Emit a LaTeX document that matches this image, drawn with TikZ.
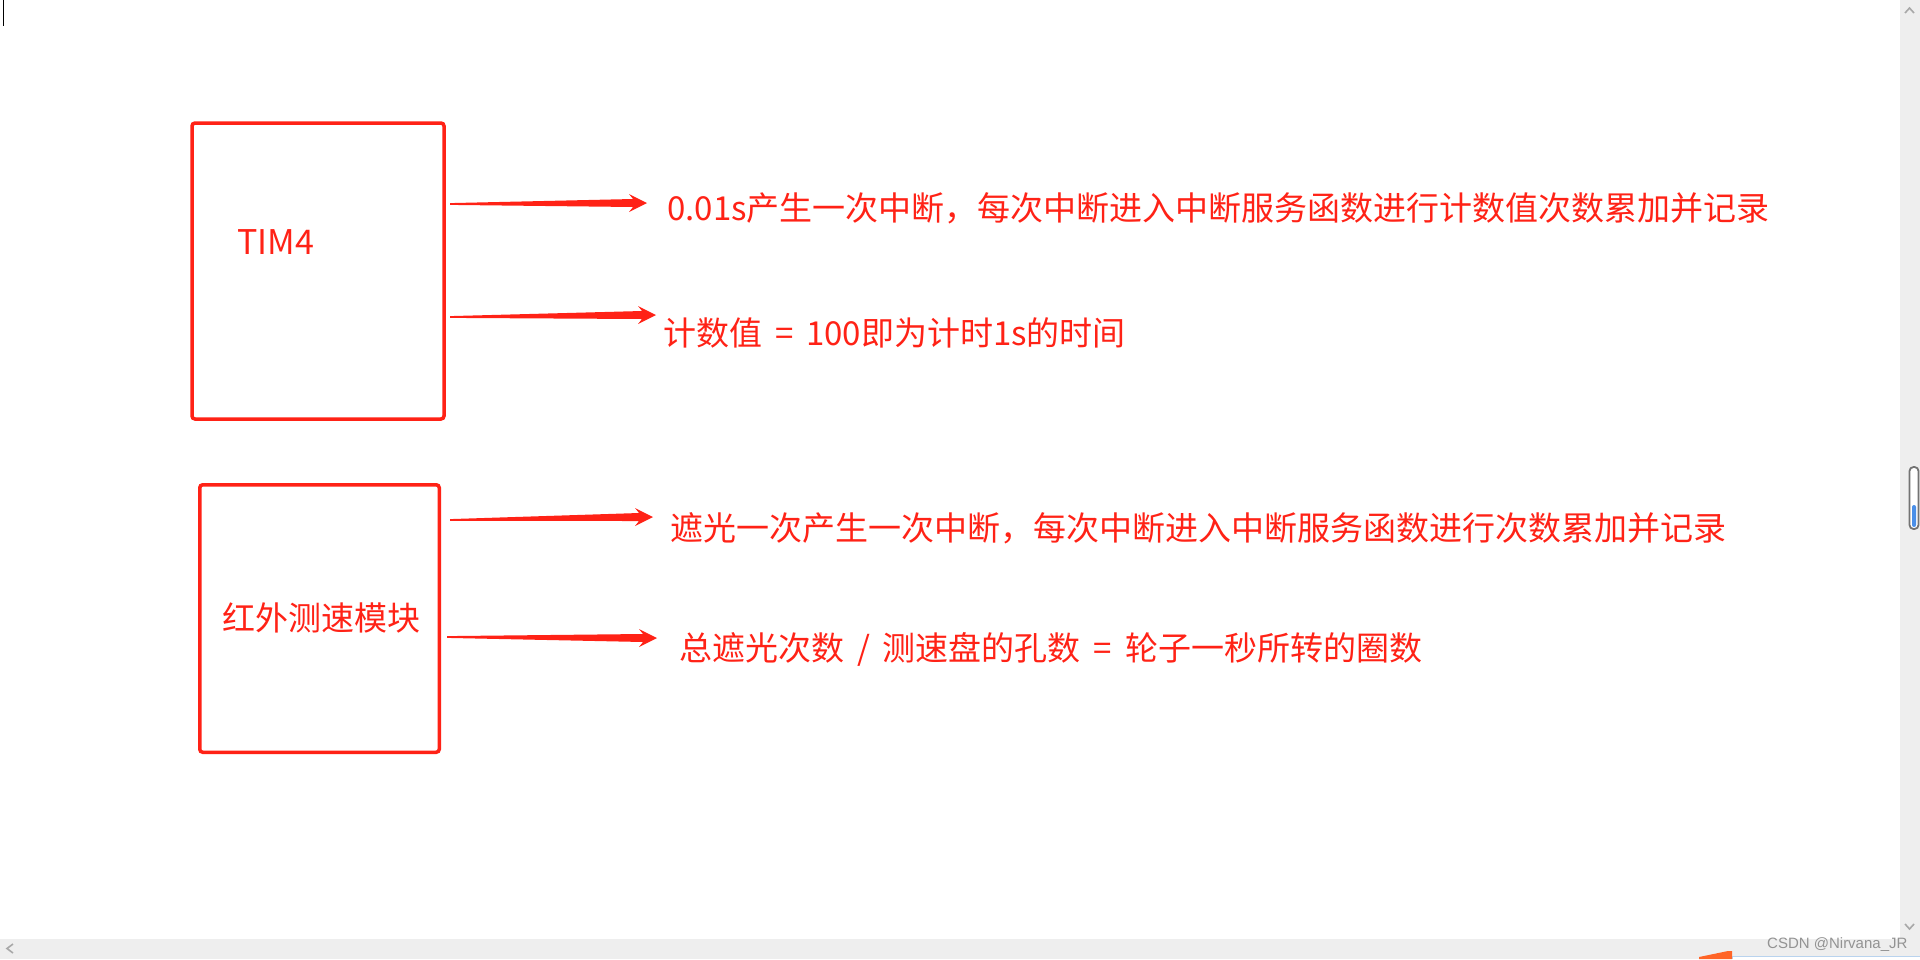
\documentclass[tikz,border=0pt]{standalone}
\usepackage{fontspec}
\usetikzlibrary{calc}
\newfontfamily\cjk{Noto Sans CJK SC}
\newfontfamily\wmfont{Liberation Sans}
\definecolor{dred}{HTML}{FF2216}
\definecolor{uigray}{HTML}{EEEEEE}
\definecolor{chev}{HTML}{A8A8A8}
\definecolor{thumbblue}{HTML}{4A8FE8}
\definecolor{orng}{HTML}{FF6426}
\definecolor{lblue}{HTML}{B9D3EE}
\newcommand{\redarrow}[2]{%
  \fill[arrfill] ($(#1)+(0,-0.9)$) -- ($(#2)+(-14,-4)$) -- ($(#2)+(-18,-9)$) -- (#2)
    -- ($(#2)+(-18,9)$) -- ($(#2)+(-14,4)$) -- ($(#1)+(0,0.9)$) -- cycle;}
\tikzset{
  box/.style={draw=dred, line width=3.5pt, rounded corners=3pt, rectangle, inner sep=0pt},
  txt/.style={text=dred, font=\cjk\fontsize{33}{40}\selectfont, inner sep=0pt, anchor=base west},
  boxtxt/.style={text=dred, font=\cjk\fontsize{33}{40}\selectfont, inner sep=0pt, anchor=base west},
  arrfill/.style={fill=dred},
  chevron/.style={draw=chev, line width=1.6pt},
}
\begin{document}
\begin{tikzpicture}[x=1pt,y=-1pt]
\useasboundingbox (0,0) rectangle (1920,959);
\fill[white] (0,0) rectangle (1920,959);
% text cursor
\draw[black, line width=1pt] (3,0) -- (3,26);
% boxes
\node[box, minimum width=252, minimum height=296] (tim) at (318,271) {};
\node[box, minimum width=239.5, minimum height=267.5] (ir) at (319.5,618.5) {};
\node[boxtxt, font=\cjk\fontsize{34}{40}\selectfont] (timlbl) at (237,254) {TIM4};
\node[boxtxt] (irlbl) at (222,630) {红外测速模块};
% texts
\node[txt] (t1) at (667,220) {0.01s产生一次中断，每次中断进入中断服务函数进行计数值次数累加并记录};
\node[txt] (t2) at (663,345) {计数值 \,= \,100即为计时1s的时间};
\node[txt] (t3) at (670,540) {遮光一次产生一次中断，每次中断进入中断服务函数进行次数累加并记录};
\node[txt] (t4) at (679,660) {总遮光次数 \,/ \,测速盘的孔数 \,= \,轮子一秒所转的圈数};
% arrows
\coordinate (a1s) at (450,204);  \coordinate (a1e) at (647,203);
\coordinate (a2s) at (450,317);  \coordinate (a2e) at (656,315);
\coordinate (a3s) at (450,520);  \coordinate (a3e) at (653,517);
\coordinate (a4s) at (447,637);  \coordinate (a4e) at (657,638);
\redarrow{a1s}{a1e}
\redarrow{a2s}{a2e}
\redarrow{a3s}{a3e}
\redarrow{a4s}{a4e}
% vertical scrollbar
\fill[uigray] (1900,0) rectangle (1920,939);
\draw[chevron] (1905,13) -- (1909.5,8) -- (1914,13);
\draw[chevron] (1905,924) -- (1909.5,929) -- (1914,924);
\draw[draw=gray!90!black, line width=1.8pt, rounded corners=4pt, fill=white] (1909.5,467) rectangle (1918.5,529);
\fill[thumbblue, rounded corners=2pt] (1912,505) rectangle (1916,527);
% horizontal scrollbar
\fill[uigray] (0,939) rectangle (1920,959);
\draw[chevron] (13,944) -- (7,948.5) -- (13,953);
% bottom-right widget
\fill[white] (1732,956) rectangle (1920,959);
\draw[lblue, line width=1pt] (1732,959) -- (1732,956) -- (1920,956);
\fill[orng] (1699,959) -- (1699,957) -- (1728,951) -- (1732,951) -- (1732,959) -- cycle;
% watermark
\node[text=gray!85, font=\wmfont\fontsize{15}{18}\selectfont, inner sep=0pt, anchor=base west] (wm) at (1767,948) {CSDN @Nirvana\_JR};
\end{tikzpicture}
\end{document}
